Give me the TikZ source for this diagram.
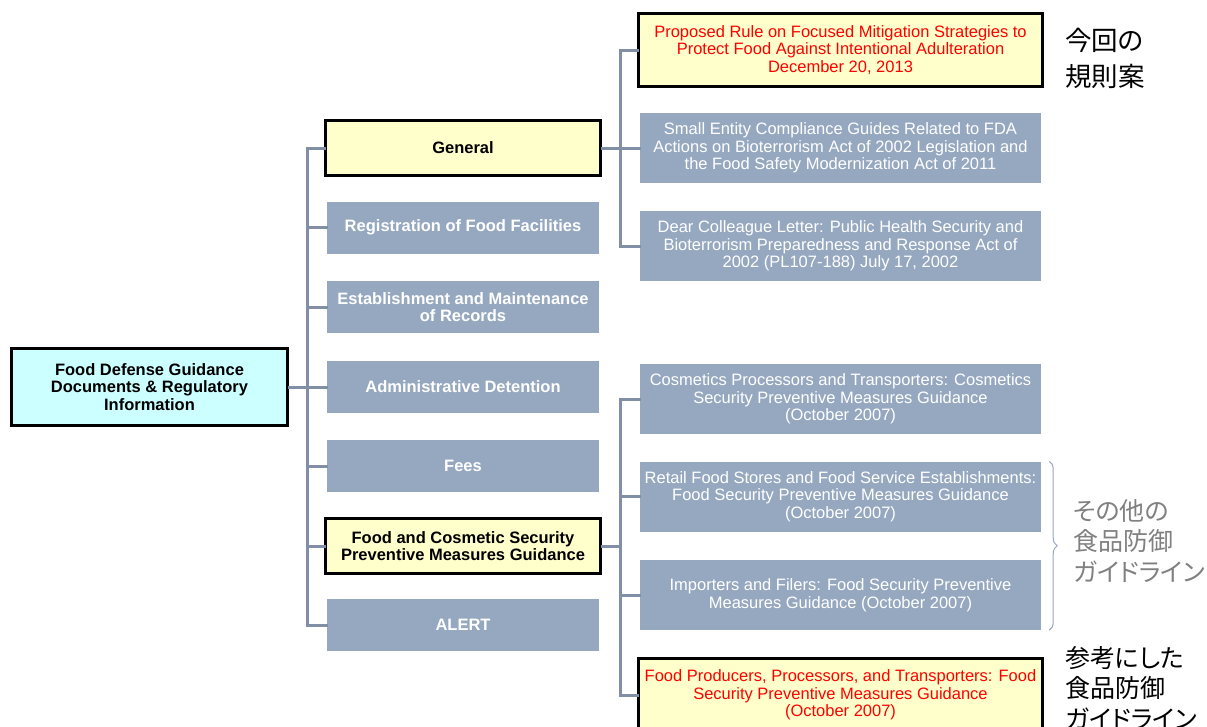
\documentclass[tikz,border=0pt]{standalone}
\usepackage{fontspec}
\setmainfont{Liberation Sans}
\newfontfamily\jpfont[RawFeature=+palt]{Noto Sans CJK JP}
\usetikzlibrary{decorations.pathreplacing}

\definecolor{boxgray}{RGB}{150,168,192}
\definecolor{linegray}{RGB}{128,143,166}
\definecolor{hiyellow}{RGB}{255,255,204}
\definecolor{hicyan}{RGB}{204,255,255}
\definecolor{jpgray}{RGB}{128,128,128}
\definecolor{bracegray}{RGB}{150,165,190}

\tikzstyle{line} = [draw=linegray, line width=3, line cap=rect]
\tikzstyle{catbox} = [fill=boxgray, text=white, font=\bfseries\fontsize{16.5}{17.5}\selectfont, minimum width=272, minimum height=52, align=center, inner sep=0]
\tikzstyle{catmark} = [catbox, fill=hiyellow, text=black, draw=black, line width=3, minimum width=275, minimum height=55]
\tikzstyle{docbox} = [fill=boxgray, text=white, font=\fontsize{16.5}{17.5}\selectfont, minimum width=401, minimum height=70, align=center, inner sep=0]
\tikzstyle{docmark} = [docbox, fill=hiyellow, text=red, draw=black, line width=3, minimum width=404, minimum height=73]
\tikzstyle{jp} = [anchor=north west, align=left, inner sep=0, font=\jpfont\fontsize{25}{30.5}\selectfont]

\begin{document}
\begin{tikzpicture}[x=1pt, y=-1pt]
\useasboundingbox (0,0) rectangle (1207,726);

%root
\node[catbox, fill=hicyan, text=black, draw=black, line width=3, minimum width=276, minimum height=77] (root) at (149.5,387) {Food Defense Guidance\\Documents \& Regulatory\\Information};

%categories
\node[catmark] (gen) at (463,148) {General};
\node[catbox] (reg) at (463,227.5) {Registration of Food Facilities};
\node[catbox] (est) at (463,307) {Establishment and Maintenance\\of Records};
\node[catbox] (adm) at (463,387) {Administrative Detention};
\node[catbox] (fees) at (463,466) {Fees};
\node[catmark] (fcs) at (463,546) {Food and Cosmetic Security\\Preventive Measures Guidance};
\node[catbox] (alert) at (463,625) {ALERT};

%documents
\node[docmark] (prop) at (840.5,50) {Proposed Rule on Focused Mitigation Strategies to\\Protect Food Against Intentional Adulteration\\December 20, 2013};
\node[docbox] (small) at (840.5,148) {Small Entity Compliance Guides Related to FDA\\Actions on Bioterrorism Act of 2002 Legislation and\\the Food Safety Modernization Act of 2011};
\node[docbox] (dear) at (840.5,246) {Dear Colleague Letter: Public Health Security and\\Bioterrorism Preparedness and Response Act of\\2002 (PL107-188) July 17, 2002};
\node[docbox] (cos) at (840.5,399) {Cosmetics Processors and Transporters: Cosmetics\\Security Preventive Measures Guidance\\(October 2007)};
\node[docbox] (ret) at (840.5,496.5) {Retail Food Stores and Food Service Establishments:\\Food Security Preventive Measures Guidance\\(October 2007)};
\node[docbox] (imp) at (840.5,595) {Importers and Filers: Food Security Preventive\\Measures Guidance (October 2007)};
\node[docmark] (prod) at (840.5,695) {Food Producers, Processors, and Transporters: Food\\Security Preventive Measures Guidance\\(October 2007)};

%lines
\coordinate (tl) at (307,0);
\coordinate (tr) at (620,0);
\draw[line] (root.east) -- (root.east -| tl);
\draw[line] (gen.west -| tl) -- (alert.west -| tl);
\foreach \n in {gen,reg,est,adm,fees,fcs,alert}
  \draw[line] (\n.west) -- (\n.west -| tl);
\draw[line] (gen.east) -- (gen.east -| tr);
\draw[line] (prop.west -| tr) -- (dear.west -| tr);
\foreach \n in {prop,small,dear}
  \draw[line] (\n.west) -- (\n.west -| tr);
\draw[line] (fcs.east) -- (fcs.east -| tr);
\draw[line] (cos.west -| tr) -- (prod.west -| tr);
\foreach \n in {cos,ret,imp,prod}
  \draw[line] (\n.west) -- (\n.west -| tr);

%notes
\node[jp, font=\jpfont\fontsize{26.5}{36}\selectfont] (now) at (1065,28) {今回の\\規則案};
\draw[bracegray, line width=1, decorate, decoration={brace, amplitude=8}] ([xshift=8]ret.north east) -- ([xshift=8]imp.south east);
\node[jp, text=jpgray] (other) at (1073,499) {その他の\\食品防御\\ガイドライン};
\node[jp] (ref) at (1065,646) {参考にした\\食品防御\\ガイドライン};
\end{tikzpicture}
\end{document}
